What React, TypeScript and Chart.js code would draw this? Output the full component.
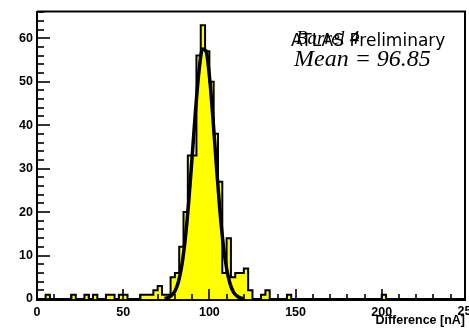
import React, { useEffect, useRef } from "react";
import { Chart, registerables } from "chart.js";
Chart.register(...registerables);

// Histogram: 100 bins of width 2.5 starting at 0
const binStart = 0;
const binWidth = 2.5;
const counts = [
  0, 0, 1, 0, 0, 0, 0, 0, 1, 0,
  0, 1, 0, 1, 0, 0, 1, 1, 0, 1,
  1, 0, 0, 0, 1, 1, 1, 2, 3, 1,
  1, 5, 6, 12, 20, 33, 33, 56, 63, 57,
  50, 38, 27, 6, 14, 5, 6, 6, 7, 2,
  0, 0, 1, 2, 0, 0, 0, 0, 1, 0,
  0, 0, 0, 0, 0, 0, 0, 0, 0, 0,
  0, 0, 0, 0, 0, 0, 0, 0, 0, 0,
  1, 0, 0, 0, 0, 0, 0, 0, 0, 0,
  0, 0, 0, 0, 0, 0, 0, 0, 0, 0,
];

// Gaussian fit curve
const fitX = [74, 76, 78, 80, 82, 84, 86, 88, 90, 92, 94, 96, 98, 100, 102, 104, 106, 108, 110, 112, 114, 116, 118, 120];
const fitY = [0.1, 0.3, 0.8, 1.8, 3.9, 7.7, 13.8, 22.3, 32.7, 43.5, 52.5, 57.5, 57.1, 51.4, 42.0, 31.1, 20.9, 12.7, 7.0, 3.5, 1.6, 0.7, 0.25, 0.08];

const xMin = 0;
const xMax = 248.3;
const yMin = 0;
const yMax = 66.15;
const xTicks = [0, 50, 100, 150, 200, 250];
const yTicks = [0, 10, 20, 30, 40, 50, 60];

const xTitle = "Difference [nA]";
const textAtlas = "ATLAS Preliminary";
const textBarrel = "Barrel 4";
const textMean = "Mean = 96.85";

const labelFont = "'Liberation Sans', Arial, sans-serif";
const labelSize = 12.5;

const rootStyle = {
  id: "rootStyle",
  afterDatasetsDraw(chart: any) {
    const { ctx, chartArea: a, scales } = chart;
    const x = scales.x;
    const y = scales.y;
    ctx.save();
    ctx.strokeStyle = "#000";
    ctx.lineWidth = 2;
    // frame top and right
    ctx.beginPath();
    ctx.moveTo(a.left, a.top);
    ctx.lineTo(a.right, a.top);
    ctx.lineTo(a.right, a.bottom);
    ctx.stroke();
    // x ticks (inward)
    ctx.lineWidth = 1.6;
    for (let v = 0; v <= xMax; v += 10) {
      const px = Math.round(x.getPixelForValue(v));
      const len = v % 50 === 0 ? 10 : 5;
      ctx.beginPath();
      ctx.moveTo(px, a.bottom);
      ctx.lineTo(px, a.bottom - len);
      ctx.stroke();
    }
    // y ticks (inward)
    for (let v = 0; v <= yMax; v += 2) {
      const py = Math.round(y.getPixelForValue(v));
      const len = v % 10 === 0 ? 13 : 7;
      ctx.beginPath();
      ctx.moveTo(a.left, py);
      ctx.lineTo(a.left + len, py);
      ctx.stroke();
    }
    // tick labels beyond the frame (clipped by the canvas edge)
    ctx.fillStyle = "#000";
    ctx.font = "bold " + labelSize + "px " + labelFont;
    ctx.textAlign = "center";
    ctx.textBaseline = "top";
    xTicks.filter((v) => v > xMax).forEach((v) => {
      ctx.fillText(String(v), x.getPixelForValue(v), a.bottom + 6);
    });
    // annotations
    ctx.textAlign = "left";
    ctx.textBaseline = "alphabetic";
    ctx.font = "17px 'DejaVu Sans', sans-serif";
    ctx.fillText(textAtlas, 291, 46);
    ctx.font = "italic 19px 'Liberation Serif', serif";
    ctx.fillText(textBarrel, 296, 44);
    ctx.font = "italic 24px 'Liberation Serif', serif";
    ctx.fillText(textMean, 294, 66);
    ctx.restore();
  },
};

export default function App() {
  const ref = useRef<HTMLCanvasElement>(null);
  useEffect(() => {
    document.body.style.margin = "0";
    const histData = counts.map((c, i) => ({ x: binStart + i * binWidth, y: c }));
    histData.push({ x: binStart + counts.length * binWidth, y: counts[counts.length - 1] });
    const fitData = fitX.map((v, i) => ({ x: v, y: fitY[i] }));
    const chart = new Chart(ref.current!, {
      type: "line",
      data: {
        datasets: [
          {
            data: fitData,
            borderColor: "#000",
            borderWidth: 3.5,
            pointRadius: 0,
            fill: false,
            cubicInterpolationMode: "monotone",
          },
          {
            data: histData,
            borderColor: "#000",
            borderWidth: 2,
            backgroundColor: "#ffff00",
            pointRadius: 0,
            stepped: "before",
            fill: "origin",
          },
        ],
      },
      options: {
        responsive: false,
        animation: false,
        events: [],
        layout: { padding: { left: 0, right: 4, top: 8, bottom: 0 } },
        plugins: { legend: { display: false }, tooltip: { enabled: false } },
        scales: {
          x: {
            type: "linear",
            min: xMin,
            max: xMax,
            grid: { display: false, drawTicks: false },
            border: { display: true, color: "#000", width: 3 },
            afterBuildTicks: (s: any) => {
              s.ticks = xTicks.filter((v) => v <= xMax).map((v) => ({ value: v }));
            },
            ticks: {
              padding: 6,
              color: "#000",
              maxRotation: 0,
              autoSkip: false,
              callback: (v: any) => String(v),
              font: { family: labelFont, size: labelSize, weight: "bold" },
            },
            title: {
              display: true,
              text: xTitle,
              align: "end",
              color: "#000",
              padding: { top: 0, bottom: 3 },
              font: { family: labelFont, size: labelSize, weight: "bold" },
            },
            afterFit: (s: any) => {
              s.height = 32;
            },
          },
          y: {
            type: "linear",
            min: yMin,
            max: yMax,
            grid: { display: false, drawTicks: false },
            border: { display: true, color: "#000", width: 2 },
            afterBuildTicks: (s: any) => {
              s.ticks = yTicks.map((v) => ({ value: v }));
            },
            ticks: {
              padding: 4,
              color: "#000",
              autoSkip: false,
              callback: (v: any) => String(v),
              font: { family: labelFont, size: labelSize, weight: "bold" },
            },
            afterFit: (s: any) => {
              s.width = 37;
            },
          },
        },
      },
      plugins: [rootStyle],
    });
    return () => chart.destroy();
  }, []);
  return <canvas ref={ref} width={469} height={331} style={{ display: "block" }} />;
}
